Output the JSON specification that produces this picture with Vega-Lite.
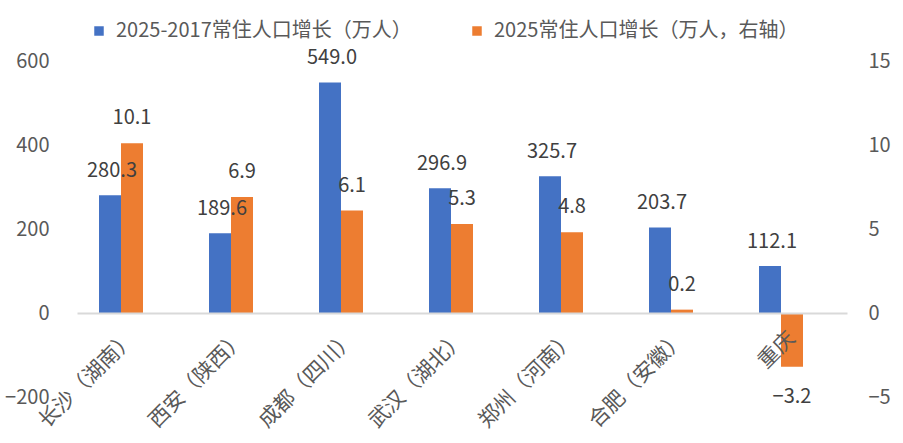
{
  "$schema": "https://vega.github.io/schema/vega-lite/v6.json",
  "width": 770,
  "height": 336,
  "autosize": {"type": "none"},
  "padding": {"left": 77, "top": 61, "right": 56, "bottom": 46},
  "background": "white",
  "config": {
    "font": "Noto Sans CJK SC",
    "view": {"stroke": null},
    "axis": {"grid": false, "ticks": false, "domain": false, "labelColor": "#595959", "labelFontSize": 20, "title": null}
  },
  "data": {
    "values": [
      {"city": "长沙（湖南）", "series": "2025-2017常住人口增长（万人）", "v": 280.3},
      {"city": "西安（陕西）", "series": "2025-2017常住人口增长（万人）", "v": 189.6},
      {"city": "成都（四川）", "series": "2025-2017常住人口增长（万人）", "v": 549.0},
      {"city": "武汉（湖北）", "series": "2025-2017常住人口增长（万人）", "v": 296.9},
      {"city": "郑州（河南）", "series": "2025-2017常住人口增长（万人）", "v": 325.7},
      {"city": "合肥（安徽）", "series": "2025-2017常住人口增长（万人）", "v": 203.7},
      {"city": "重庆", "series": "2025-2017常住人口增长（万人）", "v": 112.1},
      {"city": "长沙（湖南）", "series": "2025常住人口增长（万人，右轴）", "v": 10.1},
      {"city": "西安（陕西）", "series": "2025常住人口增长（万人，右轴）", "v": 6.9},
      {"city": "成都（四川）", "series": "2025常住人口增长（万人，右轴）", "v": 6.1},
      {"city": "武汉（湖北）", "series": "2025常住人口增长（万人，右轴）", "v": 5.3},
      {"city": "郑州（河南）", "series": "2025常住人口增长（万人，右轴）", "v": 4.8},
      {"city": "合肥（安徽）", "series": "2025常住人口增长（万人，右轴）", "v": 0.2},
      {"city": "重庆", "series": "2025常住人口增长（万人，右轴）", "v": -3.2}
    ]
  },
  "encoding": {
    "x": {
      "field": "city",
      "type": "nominal",
      "sort": null,
      "scale": {"paddingInner": 0, "paddingOuter": 0},
      "axis": {
        "offset": -84,
        "zindex": 1,
        "domain": true,
        "domainColor": "#d9d9d9",
        "domainWidth": 2,
        "labelAngle": -45,
        "labelAlign": "right",
        "labelBaseline": "middle",
        "labelFontSize": 21,
        "labelPadding": 22
      }
    },
    "xOffset": {
      "field": "series",
      "scale": {
        "domain": ["2025-2017常住人口增长（万人）", "2025常住人口增长（万人，右轴）", "pad"],
        "paddingInner": 0,
        "paddingOuter": 1.39
      }
    }
  },
  "layer": [
    {
      "transform": [{"filter": "datum.series == '2025-2017常住人口增长（万人）'"}],
      "mark": {"type": "bar"},
      "encoding": {
        "y": {
          "field": "v",
          "type": "quantitative",
          "scale": {"domain": [-200, 600], "nice": false},
          "axis": {"orient": "left", "values": [-200, 0, 200, 400, 600], "labelPadding": 28}
        },
        "color": {
          "field": "series",
          "type": "nominal",
          "scale": {
            "domain": ["2025-2017常住人口增长（万人）", "2025常住人口增长（万人，右轴）"],
            "range": ["#4472C4", "#ED7D31"]
          },
          "legend": {
            "orient": "none",
            "direction": "horizontal",
            "legendX": 12,
            "legendY": -40,
            "title": null,
            "symbolType": "square",
            "symbolSize": 90,
            "symbolStrokeWidth": 0,
            "labelFontSize": 20,
            "labelColor": "#595959",
            "labelLimit": 0,
            "columnPadding": 55,
            "labelOffset": 7
          }
        }
      }
    },
    {
      "transform": [{"filter": "datum.series == '2025常住人口增长（万人，右轴）'"}],
      "encoding": {
        "y": {
          "field": "v",
          "type": "quantitative",
          "scale": {"domain": [-5, 15], "nice": false},
          "axis": {"orient": "right", "values": [-5, 0, 5, 10, 15], "labelPadding": 21}
        }
      },
      "layer": [
        {
          "mark": {"type": "bar"},
          "encoding": {"color": {"field": "series", "type": "nominal"}}
        },
        {
          "transform": [{"filter": "datum.v >= 0"}],
          "mark": {"type": "text", "baseline": "alphabetic", "dy": -19, "fontSize": 20, "color": "#404040"},
          "encoding": {"text": {"field": "v", "type": "quantitative", "format": ".1f"}}
        },
        {
          "transform": [{"filter": "datum.v < 0"}],
          "mark": {"type": "text", "baseline": "alphabetic", "dy": 36, "fontSize": 20, "color": "#404040"},
          "encoding": {"text": {"field": "v", "type": "quantitative", "format": ".1f"}}
        }
      ]
    },
    {
      "transform": [{"filter": "datum.series == '2025-2017常住人口增长（万人）'"}],
      "mark": {"type": "text", "baseline": "alphabetic", "dy": -18, "dx": 2, "fontSize": 20, "color": "#404040"},
      "encoding": {
        "y": {
          "field": "v",
          "type": "quantitative",
          "scale": {"domain": [-200, 600], "nice": false},
          "axis": null
        },
        "text": {"field": "v", "type": "quantitative", "format": ".1f"}
      }
    }
  ],
  "resolve": {"scale": {"y": "independent"}, "axis": {"y": "independent"}}
}
